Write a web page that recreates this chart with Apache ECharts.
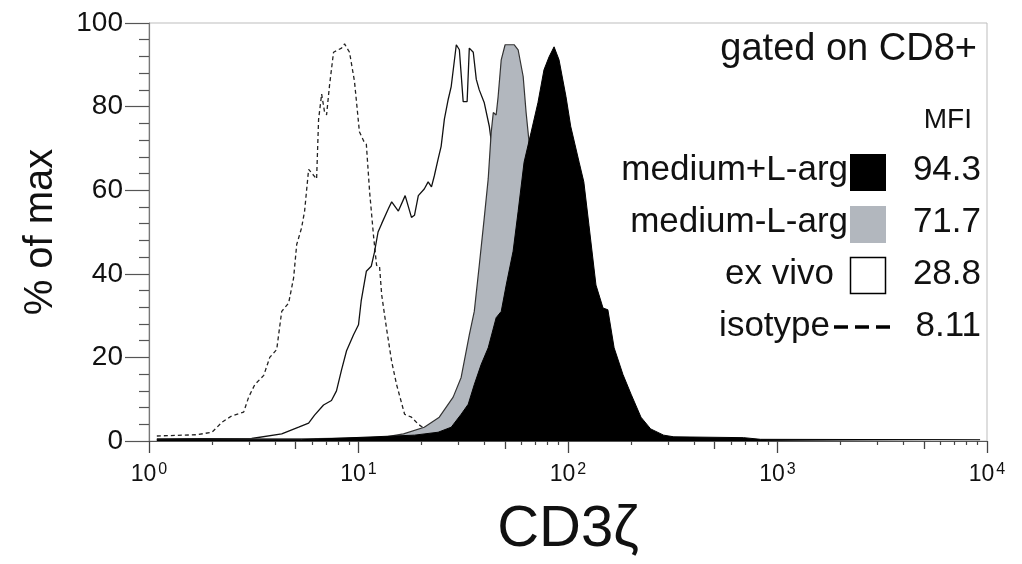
<!DOCTYPE html>
<html>
<head>
<meta charset="utf-8">
<script src="https://cdn.jsdelivr.net/npm/echarts@6/dist/echarts.min.js"></script>
<style>
  html, body { margin: 0; padding: 0; background: #fff; }
  #main { width: 1022px; height: 564px; }
</style>
</head>
<body>
<div id="main"></div>
<script>
// CD3zeta intensity (x, log scale) and % of max (y)
const isoX = [1.09, 1.69, 2.0, 2.23, 2.48, 2.83, 2.99, 3.2, 3.53, 3.77, 4.07, 4.3, 4.64, 4.9, 5.07, 5.35, 5.53, 5.78, 6.31, 6.45, 6.67, 6.89, 7.04, 7.27, 7.6, 8.3, 8.58, 9.06, 9.57, 10.1, 10.6, 10.9, 11.3, 11.8, 12.2, 12.6, 12.9, 13.6, 14.4, 15.2, 16.6, 17.9, 19.3, 20.6, 22.3, 30.9, 179];
const isoY = [1.2, 1.5, 2.1, 4.5, 6, 6.9, 10.5, 13.5, 15.7, 20, 21.9, 31, 33, 39, 47, 51, 55, 65, 62.7, 77, 83, 78.6, 78, 85, 93, 94, 95, 93, 86, 74, 71.7, 71, 59.6, 49, 42, 41.8, 35, 27, 19, 13.5, 6.4, 5.7, 4, 3, 2, 1, 0.5];

const exVivoX = [1.09, 3.09, 4.3, 5.18, 5.78, 6.17, 6.81, 7.43, 7.85, 8.3, 8.77, 9.47, 10.0, 10.3, 10.9, 11.5, 11.9, 12.4, 12.9, 13.9, 14.4, 15.5, 16.7, 17.9, 18.5, 19.3, 20.6, 21.5, 22.3, 23.0, 24.0, 24.8, 25.7, 26.8, 27.7, 29.3, 30.3, 31.6, 33.0, 33.8, 35.3, 36.5, 37.7, 39.8, 42.1, 44.0, 46.4, 49.6, 53.5, 58.4, 65.2, 78.5, 115, 248];
const exVivoY = [0.5, 0.6, 1.7, 3.3, 4.3, 6.2, 8.6, 9.7, 12, 17, 21.6, 25.4, 27.8, 33.5, 40.6, 41.8, 45, 50, 52, 55.6, 57.2, 55, 58.7, 53.5, 54, 58.7, 60.3, 62, 60.8, 63.4, 67.5, 70.5, 77, 81.7, 84.8, 94.8, 93.6, 81.2, 81.2, 94, 93, 86.5, 84, 81, 75.3, 68, 55, 40, 25, 12, 5, 2, 0.8, 0.3];

const minusArgX = [1.09, 3.09, 5.35, 12.9, 16.4, 20.6, 24.3, 28.3, 30.9, 33.8, 35.7, 37.7, 39.8, 41.6, 43.0, 44.0, 45.4, 46.4, 48.0, 50.1, 55.3, 57.8, 61.1, 63.1, 65.2, 70.4, 78.5, 92.6, 115, 160, 248];
const minusArgY = [0.3, 0.5, 0.5, 0.8, 1.7, 3.3, 5.7, 10.5, 15.2, 25.4, 31, 42, 53.2, 62.7, 73.9, 78.6, 78, 82.4, 91.2, 94.8, 94.8, 93.6, 87.2, 78.6, 71.5, 55, 35, 15, 5, 1, 0.3];

const plusArgX = [1.09, 5.35, 18.5, 24.0, 27.7, 30.9, 33.4, 35.7, 38.5, 41.6, 45.4, 48.0, 50.7, 54.7, 57.8, 61.7, 66.7, 71.9, 76.8, 81.2, 85.8, 90.6, 97.8, 103, 113, 119, 126, 136, 147, 155, 166, 183, 200, 223, 248, 286, 320, 689, 830, 9270];
const plusArgY = [0.3, 0.3, 1.4, 2.1, 3.3, 6.4, 8.8, 13.5, 18.3, 22.3, 29.5, 31, 37.3, 45.4, 54.9, 66.7, 73.9, 81, 88.8, 91.9, 94.3, 91.2, 82.4, 75.3, 66.7, 62, 51.5, 37.3, 31.8, 31.4, 22.3, 15.9, 11.2, 5.7, 2.9, 1.4, 1, 0.8, 0.4, 0.3];

const legendNames = ['medium+L-arg', 'medium-L-arg', 'ex vivo', 'isotype'];
const mfiValues = ['94.3', '71.7', '28.8', '8.11'];
const fiveTicks = [5, 50, 500, 5000];
const minorTicks = [2, 3, 4, 6, 7, 8, 9, 20, 30, 40, 60, 70, 80, 90, 200, 300, 400, 600, 700, 800, 900, 2000, 3000, 4000, 6000, 7000, 8000, 9000];

function zip(xs, ys) {
  return xs.map((x, i) => [x, ys[i]]);
}

const font = 'Liberation Sans, Arial, sans-serif';
const chart = echarts.init(document.getElementById('main'));

const logAxis = {
  type: 'log',
  logBase: 10,
  min: 1,
  max: 10000,
  position: 'bottom',
  splitLine: { show: false },
  minorSplitLine: { show: false }
};

// legend block on the right
const rowY = [170, 222, 274, 326];
const graphics = [
  { type: 'text', x: 977, y: 50, style: { text: 'gated on CD8+', font: '38px ' + font, fill: '#111', align: 'right', verticalAlign: 'middle' } },
  { type: 'text', x: 972, y: 120, style: { text: 'MFI', font: '28px ' + font, fill: '#111', align: 'right', verticalAlign: 'middle' } }
];
legendNames.forEach((name, i) => {
  graphics.push({ type: 'text', x: i === 3 ? 830 : (i === 2 ? 834 : 848), y: rowY[i], style: { text: name, font: '35px ' + font, fill: '#111', align: 'right', verticalAlign: 'middle' } });
  graphics.push({ type: 'text', x: 981, y: rowY[i], style: { text: mfiValues[i], font: '35px ' + font, fill: '#111', align: 'right', verticalAlign: 'middle' } });
});
graphics.push({ type: 'rect', shape: { x: 850, y: 154, width: 36, height: 37 }, style: { fill: '#000' } });
graphics.push({ type: 'rect', shape: { x: 850, y: 206, width: 36, height: 37 }, style: { fill: '#b2b7be' } });
graphics.push({ type: 'rect', shape: { x: 850.5, y: 257.5, width: 35, height: 36 }, style: { fill: '#fff', stroke: '#000', lineWidth: 1.5 } });
graphics.push({ type: 'line', shape: { x1: 834, y1: 327, x2: 894, y2: 327 }, style: { stroke: '#000', lineWidth: 3.5, lineDash: [14, 7] } });

chart.setOption({
  animation: false,
  backgroundColor: '#fff',
  grid: {
    left: 149, right: 35, top: 23, bottom: 120,
    show: true, borderColor: '#bdbdbd', borderWidth: 1
  },
  xAxis: [
    Object.assign({}, logAxis, {
      name: 'CD3ζ',
      nameLocation: 'middle',
      nameGap: 60,
      nameTextStyle: { fontSize: 58, fontFamily: font, color: '#111' },
      axisLine: { show: true, onZero: false, lineStyle: { color: '#555', width: 1.2 } },
      axisTick: { show: true, length: 12, lineStyle: { color: '#444', width: 1.3 } },
      axisLabel: {
        margin: 21,
        formatter: function (v) {
          return '{b|10}{s|' + Math.round(Math.log10(v)) + '}';
        },
        rich: {
          b: { fontSize: 23, fontFamily: font, color: '#111', lineHeight: 26 },
          s: { fontSize: 16, fontFamily: font, color: '#111', verticalAlign: 'top', lineHeight: 16, padding: [0, 0, 0, 2] }
        }
      }
    }),
    // medium ticks at 5 x 10^n
    Object.assign({}, logAxis, {
      axisLine: { show: false },
      axisLabel: { show: false },
      axisTick: { show: true, length: 8, customValues: fiveTicks, lineStyle: { color: '#444', width: 1.3 } }
    }),
    // short ticks at the other integers of each decade
    Object.assign({}, logAxis, {
      axisLine: { show: false },
      axisLabel: { show: false },
      axisTick: { show: true, length: 4, customValues: minorTicks, lineStyle: { color: '#444', width: 1.2 } }
    })
  ],
  yAxis: {
    type: 'value',
    min: 0,
    max: 100,
    interval: 20,
    name: '% of max',
    nameLocation: 'middle',
    nameGap: 88,
    nameTextStyle: { fontSize: 40, fontFamily: font, color: '#111' },
    axisLine: { show: true, lineStyle: { color: '#777', width: 1.2 } },
    axisTick: { show: true, length: 24, lineStyle: { color: '#555', width: 1.2 } },
    minorTick: { show: true, splitNumber: 5, length: 10, lineStyle: { color: '#555', width: 1.2 } },
    splitLine: { show: false },
    axisLabel: { margin: 26, fontSize: 28, fontFamily: font, color: '#111' }
  },
  graphic: graphics,
  series: [
    {
      name: 'isotype',
      type: 'line',
      data: zip(isoX, isoY),
      showSymbol: false,
      lineStyle: { color: '#222', width: 1.3, type: [4, 3] },
      z: 2
    },
    {
      name: 'ex vivo',
      type: 'line',
      data: zip(exVivoX, exVivoY),
      showSymbol: false,
      lineStyle: { color: '#111', width: 1.3 },
      z: 3
    },
    {
      name: 'medium-L-arg',
      type: 'line',
      data: zip(minusArgX, minusArgY),
      showSymbol: false,
      lineStyle: { color: '#333', width: 1.2 },
      areaStyle: { color: '#b2b7be', opacity: 1 },
      z: 4
    },
    {
      name: 'medium+L-arg',
      type: 'line',
      data: zip(plusArgX, plusArgY),
      showSymbol: false,
      lineStyle: { color: '#000', width: 1 },
      areaStyle: { color: '#000', opacity: 1 },
      z: 5
    }
  ]
});
</script>
</body>
</html>
